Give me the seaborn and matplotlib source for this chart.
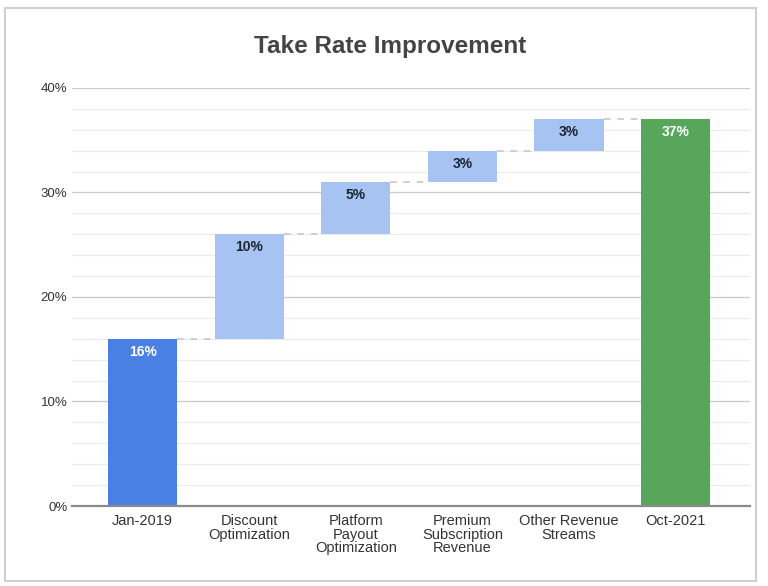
import numpy as np
import pandas as pd
import matplotlib
matplotlib.use("Agg")
import matplotlib.pyplot as plt
import matplotlib.ticker as tkr
from matplotlib.patches import Rectangle
import seaborn as sns

# waterfall data (percent)
categories = ["Jan-2019", "Discount\nOptimization", "Platform\nPayout\nOptimization",
              "Premium\nSubscription\nRevenue", "Other Revenue\nStreams", "Oct-2021"]
changes = [16, 10, 5, 3, 3, 37]
kinds = ["total", "step", "step", "step", "step", "total"]
labels = ["16%", "10%", "5%", "3%", "3%", "37%"]

# bases for the floating bars
bases = []
running = 0
for c, k in zip(changes, kinds):
    if k == "total":
        bases.append(0)
        running = c
    else:
        bases.append(running)
        running += c
tops = [b + c for b, c in zip(bases, changes)]

df = pd.DataFrame({"cat": categories, "change": changes, "base": bases, "kind": kinds})
colors = {"first": "#4a80e4", "step": "#a6c3f2", "last": "#58a65b"}
bar_colors = [colors["first"]] + [colors["step"]] * 4 + [colors["last"]]

sns.set_style("white")
plt.rcParams['font.family'] = ['Liberation Sans', 'DejaVu Sans']

fig = plt.figure(figsize=(7.68, 5.86), dpi=100)
ax = fig.add_axes([0.094, 0.1365, 0.883, 0.7135])

w = 0.65
sns.barplot(data=df, x="cat", y="change", color=colors["step"], saturation=1,
            bottom=df["base"].to_numpy(), width=w, errorbar=None, ax=ax, zorder=3,
            linewidth=0)
for p, c in zip(ax.patches, bar_colors):
    p.set_facecolor(c)

# dashed connectors
for i in range(len(categories) - 1):
    ax.plot([i + w / 2, i + 1 - w / 2], [tops[i], tops[i]], ls=(0, (4, 4)),
            color="#c8c8c8", lw=1.2, zorder=2)

# value labels
for i, (t, lab, k) in enumerate(zip(tops, labels, kinds)):
    col = "white" if k == "total" else "#1c2633"
    ax.text(i, t - 1.25, lab, ha="center", va="center", fontsize=10, fontweight="bold",
            color=col, zorder=4)

ax.set_ylim(0, 40)
ax.set_xlim(-0.66, 5.7)
ax.yaxis.set_major_locator(tkr.MultipleLocator(10))
ax.yaxis.set_minor_locator(tkr.MultipleLocator(2))
ax.yaxis.set_major_formatter(tkr.FuncFormatter(lambda v, p: f"{int(v)}%"))
ax.grid(axis="y", which="major", color="#cccccc", lw=1.0, zorder=0)
ax.grid(axis="y", which="minor", color="#ebebeb", lw=0.8, zorder=0)
ax.set_axisbelow(True)
for s in ["top", "right", "left"]:
    ax.spines[s].set_visible(False)
ax.spines["bottom"].set_color("#8a8a8a")
ax.spines["bottom"].set_linewidth(1.6)
ax.spines["bottom"].set_zorder(5)
ax.tick_params(axis="both", which="both", length=0, colors="#333333")
ax.tick_params(axis="y", labelsize=9.5)
ax.tick_params(axis="x", labelsize=10.5, pad=6)
for t in ax.get_xticklabels():
    t.set_linespacing(0.95)
ax.set_xlabel("")
ax.set_ylabel("")

fig.text(0.508, 0.92, "Take Rate Improvement", ha="center", va="center",
         fontsize=17.5, fontweight="bold", color="#444444")

# light frame around the chart
fig.patches.append(Rectangle((0.007, 0.008), 0.978, 0.978, transform=fig.transFigure,
                             fill=False, edgecolor="#d0d0d0", lw=1.5))

fig.savefig("out.png", dpi=100)
